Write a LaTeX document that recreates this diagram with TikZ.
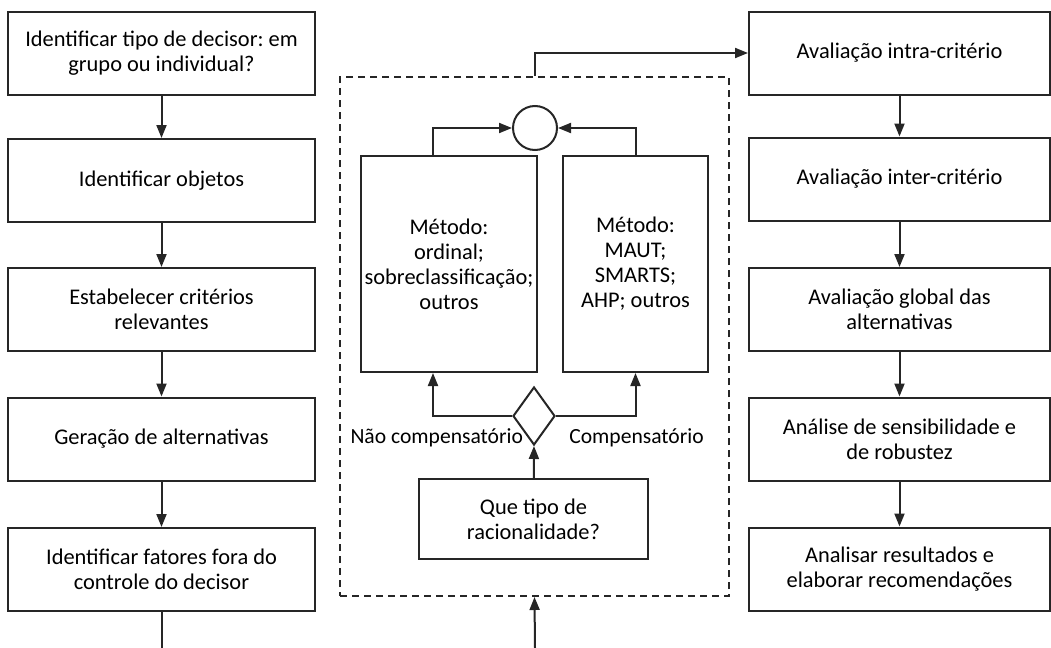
\documentclass[tikz,border=0pt]{standalone}
\usepackage{fontspec}
\setmainfont{Carlito}
\usepackage{tikz}
\usetikzlibrary{shapes.geometric,arrows.meta}
\frenchspacing

\begin{document}
\begin{tikzpicture}[x=0.5pt, y=-0.5pt, line width=1pt, draw=black!85,
  >={Triangle[length=6.5pt,width=5pt]},
  box/.style={draw, align=center, inner sep=1pt, minimum height=41.5pt,
    font=\fontsize{11.2}{12.5}\selectfont},
  leftbox/.style={box, minimum width=153.5pt},
  rightbox/.style={box, minimum width=150.5pt},
  branch/.style={inner sep=0pt, font=\fontsize{10.8}{12.5}\selectfont}]
\useasboundingbox (0,0) rectangle (1051,648);

% Left column
\node[leftbox] (tipo) at (161.5,53) {Identificar tipo de decisor: em\\grupo ou individual?};
\node[leftbox] (objetos) at (161.5,180.5) {Identificar objetos};
\node[leftbox] (criterios) at (161.5,309.5) {Estabelecer critérios\\relevantes};
\node[leftbox] (geracao) at (161.5,439) {Geração de alternativas};
\node[leftbox] (fatores) at (161.5,569.5) {Identificar fatores fora do\\controle do decisor};
\coordinate (tail) at (161.5,648);

\draw[->] (tipo) -- (objetos);
\draw[->] (objetos) -- (criterios);
\draw[->] (criterios) -- (geracao);
\draw[->] (geracao) -- (fatores);
\draw (fatores) -- (tail);

% Middle block: choice of method
\node[draw, dashed, dash pattern=on 3.5pt off 2.5pt, minimum width=194.5pt, minimum height=259.5pt] (grupo) at (534.5,336.5) {};
\node[draw, circle, minimum size=22pt, inner sep=0pt] (juncao) at (535,128) {};
\node[box, minimum width=88pt, minimum height=108pt] (ncomp) at (449,264) {Método:\\ordinal;\\sobreclassificação;\\outros};
\node[box, minimum width=72.5pt, minimum height=108pt] (comp) at (635.5,264) {Método:\\MAUT;\\SMARTS;\\AHP; outros};
\node[draw, diamond, minimum width=21pt, minimum height=29pt, inner sep=0pt] (escolha) at (534,416) {};
\node[box, minimum width=114.5pt, minimum height=40pt] (racional) at (533.5,519) {Que tipo de\\racionalidade?};
\node[branch, anchor=east] (lblncomp) at (524,438) {Não compensatório};
\node[branch] (lblcomp) at (636.5,438) {Compensatório};
\coordinate (entrada) at (535,648);

\draw[->] ([xshift=-8pt]ncomp.north) |- (juncao.west);
\draw[->] (comp.north) |- (juncao.east);
\draw[->] (escolha.west) -| ([xshift=-8pt]ncomp.south);
\draw[->] (escolha.east) -| (comp.south);
\draw[->] (racional) -- (escolha.south);
\draw[->] (entrada) -- (grupo.south);

% Right column
\node[rightbox] (intra) at (899.5,53) {Avaliação intra-critério};
\node[rightbox] (inter) at (899.5,179) {Avaliação inter-critério};
\node[rightbox] (global) at (899.5,309.5) {Avaliação global das\\alternativas};
\node[rightbox] (sensib) at (899.5,439) {Análise de sensibilidade e\\de robustez};
\node[rightbox] (result) at (899.5,569) {Analisar resultados e\\elaborar recomendações};

\draw[->] (grupo.north) |- (intra.west);
\draw[->] (intra) -- (inter);
\draw[->] (inter) -- (global);
\draw[->] (global) -- (sensib);
\draw[->] (sensib) -- (result);
\end{tikzpicture}
\end{document}
